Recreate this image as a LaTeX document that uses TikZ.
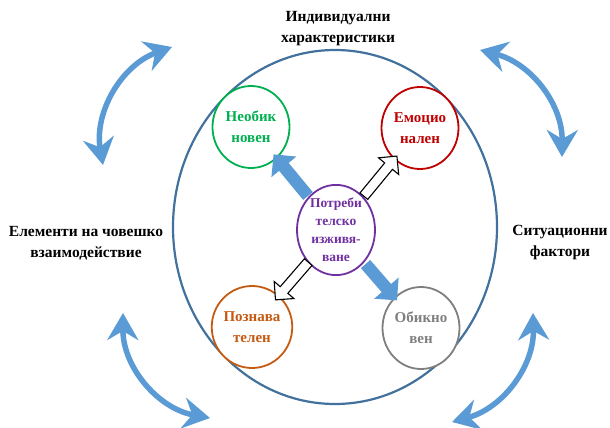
\documentclass[tikz,border=0pt]{standalone}
\usepackage{fontspec}
\setmainfont{Liberation Serif}
\usepackage{xcolor}
\usepackage{tikz}
\usetikzlibrary{arrows.meta,shapes.geometric,shapes.arrows}

\definecolor{ringblue}{RGB}{65,113,156}
\definecolor{arrblue}{RGB}{91,155,213}
\definecolor{novgreen}{RGB}{0,176,80}
\definecolor{emored}{RGB}{192,0,0}
\definecolor{cogorange}{RGB}{197,90,17}
\definecolor{usualgray}{RGB}{127,127,127}
\definecolor{needpurple}{RGB}{112,48,160}

\begin{document}
\begin{tikzpicture}[x=1pt, y=-1pt, every node/.style={font=\bfseries}, ring/.style={draw,ellipse,line width=1.8pt,fill=white,align=center,inner sep=0pt,minimum width=77pt,minimum height=82pt,font=\bfseries\fontsize{15}{21}\selectfont}, lbl/.style={align=center,font=\bfseries\fontsize{15.5}{21}\selectfont}, swing/.style={draw=arrblue,line width=5.5pt,{Stealth[length=27pt,width=31pt,inset=9pt]}-{Stealth[length=27pt,width=31pt,inset=9pt]}}, solidarr/.style={single arrow,fill=arrblue,inner xsep=0pt,inner ysep=6pt,single arrow head extend=10pt,single arrow tip angle=90,sloped,allow upside down}, openarr/.style={single arrow,draw,fill=white,line width=1.1pt,inner xsep=0pt,inner ysep=4.5pt,single arrow head extend=8pt,single arrow tip angle=90,sloped,allow upside down}]
\useasboundingbox (0,0) rectangle (610,428);
\node[draw=ringblue,ellipse,line width=2.2pt,minimum width=324pt,minimum height=354pt] (frame) at (335,227) {};
% labels round the frame
\node[lbl] (traits) at (338,29) {Индивидуални\\характеристики};
\node[lbl] (social) at (86,243) {Елементи на човешко\\взаимодействие};
\node[lbl] (situation) at (560,243) {Ситуационни\\фактори};
% kinds of experience
\node[ring,draw=novgreen,text=novgreen] (novel) at (251,127) {Необик\\новен};
\node[ring,draw=emored,text=emored] (emotion) at (420,128) {Емоцио\\нален};
\node[ring,draw=cogorange,text=cogorange] (cognition) at (252,327) {Познава\\телен};
\node[ring,draw=usualgray,text=usualgray] (usual) at (421,328) {Обикно\\вен};
\node[ring,draw=needpurple,text=needpurple,minimum width=78pt,minimum height=86pt,font=\bfseries\fontsize{13.5}{18}\selectfont] (need) at (336,230) {Потреби\\телско\\изживя-\\ване};
\path (need) -- node[solidarr,minimum height=54pt] {} (novel);
\path (need) -- node[solidarr,minimum height=48pt] {} (usual);
\path (need) -- node[openarr,minimum height=52pt] {} (emotion);
\path (need) -- node[openarr,minimum height=50pt] {} (cognition);
% swing arrows
\coordinate (tl1) at (172,47);
\coordinate (tl2) at (103,165);
\coordinate (tr1) at (480,50);
\coordinate (tr2) at (562,157);
\coordinate (bl1) at (123,313);
\coordinate (bl2) at (210,418);
\coordinate (br1) at (533,313);
\coordinate (br2) at (452,422);
\draw[swing] (tl1) to[bend right=40] (tl2);
\draw[swing] (tr1) to[bend left=38] (tr2);
\draw[swing] (bl1) to[bend right=40] (bl2);
\draw[swing] (br1) to[bend left=38] (br2);
\end{tikzpicture}
\end{document}
